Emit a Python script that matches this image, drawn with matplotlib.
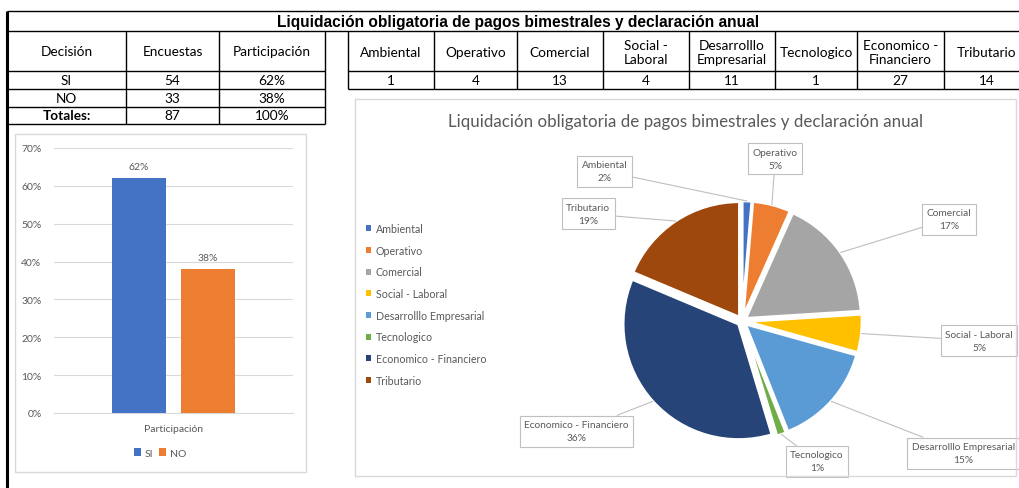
import matplotlib
matplotlib.use('Agg')
import matplotlib.pyplot as plt
from matplotlib.patches import Rectangle, Patch
from matplotlib.lines import Line2D
from matplotlib.ticker import PercentFormatter
import numpy as np

# ---------------- data ----------------
title = "Liquidación obligatoria de pagos bimestrales y declaración anual"

decision_header = ["Decisión", "Encuestas", "Participación"]
decision_rows = ["SI", "NO", "Totales:"]
encuestas = [54, 33, 87]
participacion = ["62%", "38%", "100%"]

categories = ["Ambiental", "Operativo", "Comercial", "Social - Laboral",
              "Desarrolllo Empresarial", "Tecnologico", "Economico - Financiero",
              "Tributario"]
table_headers = ["Ambiental", "Operativo", "Comercial", "Social -\nLaboral",
                 "Desarrolllo\nEmpresarial", "Tecnologico", "Economico -\nFinanciero",
                 "Tributario"]
counts = [1, 4, 13, 4, 11, 1, 27, 14]
pie_pct_labels = ["2%", "5%", "17%", "5%", "15%", "1%", "36%", "19%"]

bar_series = ["SI", "NO"]
bar_values = [0.62, 0.38]
bar_category = "Participación"

# ---------------- styles ----------------
pie_colors = ["#4472C4", "#ED7D31", "#A5A5A5", "#FFC000",
              "#5B9BD5", "#70AD47", "#264478", "#9E480E"]
bar_colors = ["#4472C4", "#ED7D31"]
gray_txt = "#595959"
grid_c = "#D9D9D9"
FONT = ["Lato", "DejaVu Sans"]
plt.rcParams['font.family'] = FONT

W, H = 1019, 489
fig = plt.figure(figsize=(W / 100, H / 100), dpi=100)


def fx(px):
    return px / W


def fy(py):
    return 1 - py / H


def hline(y, x0, x1, lw=1.0, color='black'):
    fig.add_artist(Line2D([fx(x0), fx(x1)], [fy(y), fy(y)], color=color, lw=lw,
                          solid_capstyle='butt'))


def vline(x, y0, y1, lw=1.0, color='black'):
    fig.add_artist(Line2D([fx(x), fx(x)], [fy(y0), fy(y1)], color=color, lw=lw,
                          solid_capstyle='butt'))


def ftext(x, y, s, **kw):
    kw.setdefault('ha', 'center')
    kw.setdefault('va', 'center')
    fig.text(fx(x), fy(y), s, **kw)


def frect(x0, y0, x1, y1, color=grid_c, lw=1.0):
    fig.add_artist(Rectangle((fx(x0), fy(y1)), fx(x1) - fx(x0), fy(y0) - fy(y1),
                             transform=fig.transFigure, fill=False,
                             edgecolor=color, lw=lw))


# ---------------- tables ----------------
vline(7, 12, 489, lw=2.2)
hline(12, 7, 1019)
hline(32, 7, 1019)
ftext(518, 22, title, family="Liberation Sans", fontweight='bold', fontsize=11.2)

# left table
lcols = [7, 126, 219, 325]
lrows = [32, 72, 90, 108, 125]
for x in lcols[1:]:
    vline(x, 32, 125)
for y in lrows[1:]:
    hline(y, 7, 325, lw=1.0)
tfs = 9.8
for i, h in enumerate(decision_header):
    ftext((lcols[i] + lcols[i + 1]) / 2, 52, h, fontsize=tfs)
for r, (d, e, p) in enumerate(zip(decision_rows, encuestas, participacion)):
    yc = (lrows[r + 1] + lrows[r + 2]) / 2
    fw = 'bold' if r == 2 else 'normal'
    ftext((lcols[0] + lcols[1]) / 2, yc, d, fontsize=tfs, fontweight=fw)
    ftext((lcols[1] + lcols[2]) / 2, yc, str(e), fontsize=tfs)
    ftext((lcols[2] + lcols[3]) / 2, yc, p, fontsize=tfs)

# right table
rcols = [348, 434, 517, 603, 689, 775, 857, 944, 1030]
for x in rcols[:-1]:
    vline(x, 32, 90)
hline(72, 348, 1019)
hline(90, 348, 1019)
for i, (h, c) in enumerate(zip(table_headers, counts)):
    xc = (rcols[i] + rcols[i + 1]) / 2
    ftext(xc, 53, h, fontsize=tfs, linespacing=1.3)
    ftext(xc, 81, str(c), fontsize=tfs)

# ---------------- bar chart ----------------
frect(15, 135, 306, 473)
axb = fig.add_axes([fx(54), fy(414), fx(293) - fx(54), (414 - 149) / H])
offsets = [-0.144, 0.144]
bw = 0.226
for off, v, c, s in zip(offsets, bar_values, bar_colors, bar_series):
    axb.bar(off, v, width=bw, color=c, label=s, zorder=3)
    axb.text(off, v + 0.02, f"{v:.0%}", ha='center', va='bottom',
             fontsize=7.5, color=gray_txt)
axb.set_xlim(-0.5, 0.5)
axb.set_ylim(0, 0.7)
axb.set_yticks(np.arange(0, 0.71, 0.1))
axb.yaxis.set_major_formatter(PercentFormatter(1.0, decimals=0))
axb.set_xticks([0])
axb.set_xticklabels([bar_category])
axb.grid(axis='y', color=grid_c, lw=0.8, zorder=0)
for s in ['top', 'right', 'left']:
    axb.spines[s].set_visible(False)
axb.spines['bottom'].set_color(grid_c)
axb.tick_params(axis='both', length=0, labelsize=7.5, colors=gray_txt)
axb.tick_params(axis='y', pad=9)
axb.tick_params(axis='x', pad=8)
hb, lb = axb.get_legend_handles_labels()
fig.legend(hb, lb, loc='center', bbox_to_anchor=(fx(160), fy(454)), ncol=2,
           frameon=False, fontsize=7.5, handlelength=0.7, handleheight=0.7,
           handletextpad=0.3, columnspacing=0.6, labelcolor=gray_txt)

# ---------------- pie chart ----------------
frect(355, 100, 1016, 477)
ftext(685, 122, title, fontsize=12.2, color=gray_txt)

R = 111.0
cx, cy = 742, 322
span = 1.3
axp = fig.add_axes([fx(cx - span * R), fy(cy + span * R), 2 * span * R / W, 2 * span * R / H])
axp.set_xlim(-span, span)
axp.set_ylim(-span, span)
axp.set_aspect('equal')
axp.axis('off')
wedges, _ = axp.pie(counts, colors=pie_colors, startangle=90, counterclock=False,
                    explode=[0.04] * len(counts),
                    wedgeprops=dict(edgecolor='white', linewidth=2.0))

# label box centres (pixels, layout)
label_pos = [(610, 178), (774, 166), (941, 224), (970, 341),
             (955, 449), (814, 457), (583, 428), (594, 219)]
for w, cat, pct, (px, py) in zip(wedges, categories, pie_pct_labels, label_pos):
    ang = np.deg2rad((w.theta1 + w.theta2) / 2)
    ax_, ay_ = w.center[0] + w.r * np.cos(ang), w.center[1] + w.r * np.sin(ang)
    tx, ty = (px - cx) / R, (cy - py) / R
    axp.annotate(f"{cat}\n{pct}", xy=(ax_, ay_), xytext=(tx, ty),
                 ha='center', va='center', fontsize=7.3, color=gray_txt,
                 linespacing=1.55, annotation_clip=False,
                 bbox=dict(boxstyle='square,pad=0.45', fc='white', ec='#BFBFBF', lw=0.8),
                 arrowprops=dict(arrowstyle='-', color='#BFBFBF', lw=0.8,
                                 shrinkA=0, shrinkB=0))

handles = [Patch(facecolor=c, edgecolor='none') for c in pie_colors]
fig.legend(handles, categories, loc='upper left', bbox_to_anchor=(fx(366), fy(224)),
           frameon=False, fontsize=7.7, handlelength=0.5, handleheight=0.5,
           handletextpad=0.4, labelspacing=1.0, labelcolor=gray_txt,
           borderaxespad=0, borderpad=0)

fig.savefig("out.png", dpi=100)
